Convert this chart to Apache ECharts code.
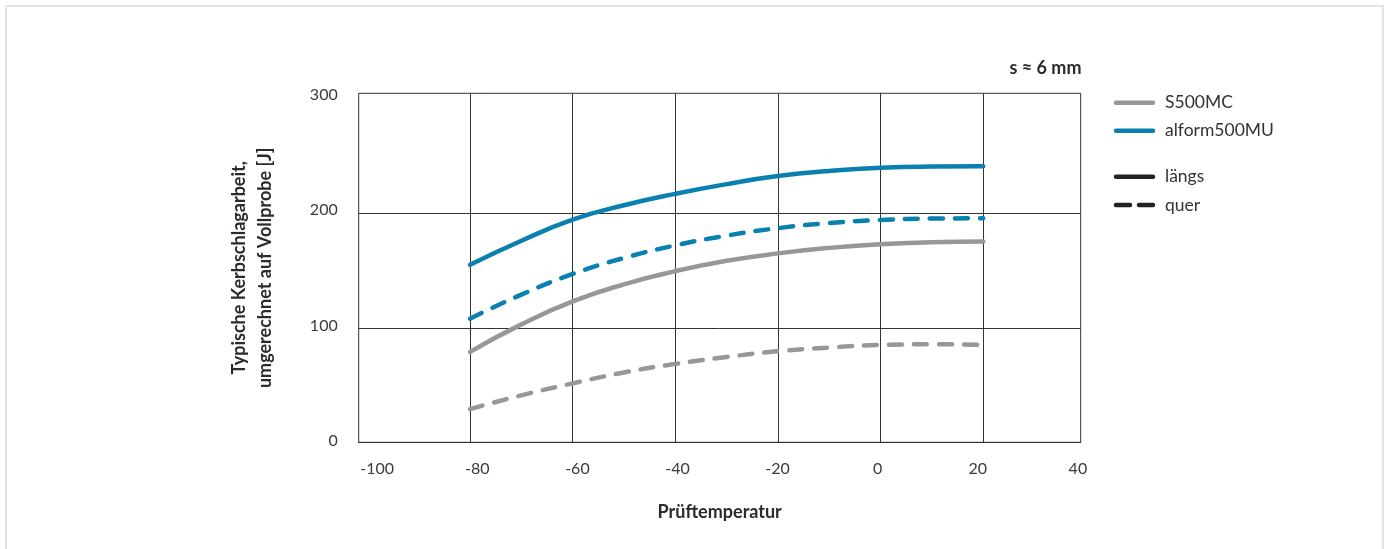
<!DOCTYPE html>
<html>
<head>
<meta charset="utf-8">
<script src="https://cdn.jsdelivr.net/npm/echarts@6/dist/echarts.min.js"></script>
<style>
  html, body { margin: 0; padding: 0; background: #fff; }
  #chart { width: 1389px; height: 549px; }
</style>
</head>
<body>
<div id="chart"></div>
<script>
// ---- data ----
var temperatures = [-80, -70, -60, -50, -40, -30, -20, -10, 0, 10, 20];
var s500mcLaengs = [79, 103, 123, 138, 149.5, 158.5, 165, 169.8, 173, 174.8, 175.3];
var s500mcQuer   = [29, 41, 51.5, 61, 68.5, 74.5, 79.5, 82.8, 85, 85.6, 85.2];
var alformLaengs = [155, 176, 194.5, 207, 217, 225.5, 232.5, 237, 239.8, 240.8, 241];
var alformQuer   = [108, 129, 147, 161, 172, 180.5, 187, 191.5, 194.2, 195.4, 195.6];

var xTickLabels = [-100, -80, -60, -40, -20, 0, 20, 40];
var xGridValues = [-80, -60, -40, -20, 0, 20];
var yTickLabels = [0, 100, 200, 300];
var yGridValues = [0, 100, 200];

var seriesNames = ['S500MC', 'alform500MU'];
var styleNames = ['längs', 'quer'];
var xAxisTitle = 'Prüftemperatur';
var yAxisTitle = 'Typische Kerbschlagarbeit,\numgerechnet auf Vollprobe [J]';
var thicknessNote = 's ≈ 6 mm';

// ---- styling ----
var GRAY = '#97979a';
var BLUE = '#0a80b0';
var FONT = 'Lato, "Noto Sans", sans-serif';
var DASH = [13, 12];

function pairs(xs, ys) {
  return xs.map(function (x, i) { return [x, ys[i]]; });
}

function lineSeries(name, values, color, dashed) {
  return {
    name: name,
    type: 'line',
    data: pairs(temperatures, values),
    smooth: 0.5,
    showSymbol: false,
    symbol: 'none',
    silent: true,
    lineStyle: {
      color: color,
      width: 4.5,
      type: dashed ? DASH : 'solid',
      cap: 'round',
      join: 'round'
    }
  };
}

var chart = echarts.init(document.getElementById('chart'), null, { renderer: 'canvas' });

var legendX0 = 1116, legendX1 = 1153, legendTextX = 1165;
var legendRows = [
  { text: seriesNames[0], y: 102.7, color: GRAY, dashed: false },
  { text: seriesNames[1], y: 130.7, color: BLUE, dashed: false },
  { text: styleNames[0], y: 176.7, color: '#222', dashed: false },
  { text: styleNames[1], y: 205, color: '#222', dashed: true }
];

var graphics = [
  {
    type: 'rect',
    shape: { x: 6, y: 6, width: 1377, height: 580 },
    style: { fill: 'none', stroke: '#e4e4e4', lineWidth: 2 },
    silent: true
  },
  {
    type: 'text',
    x: 1081.5, y: 68.5,
    style: {
      text: thicknessNote,
      font: 'bold 18px ' + FONT,
      fill: '#2b2b2b',
      align: 'right',
      verticalAlign: 'middle'
    }
  }
];

legendRows.forEach(function (r) {
  if (r.dashed) {
    graphics.push({
      type: 'line',
      shape: { x1: legendX0, y1: r.y, x2: legendX0 + 14, y2: r.y },
      style: { stroke: r.color, lineWidth: 4.5, lineCap: 'round' }
    });
    graphics.push({
      type: 'line',
      shape: { x1: legendX1 - 14, y1: r.y, x2: legendX1, y2: r.y },
      style: { stroke: r.color, lineWidth: 4.5, lineCap: 'round' }
    });
  } else {
    graphics.push({
      type: 'line',
      shape: { x1: legendX0, y1: r.y, x2: legendX1, y2: r.y },
      style: { stroke: r.color, lineWidth: 4.5, lineCap: 'round' }
    });
  }
  graphics.push({
    type: 'text',
    x: legendTextX, y: r.y,
    style: {
      text: r.text,
      font: '17.5px ' + FONT,
      fill: '#333',
      align: 'left',
      verticalAlign: 'middle'
    }
  });
});

var option = {
  backgroundColor: '#fff',
  animation: false,
  grid: {
    left: 358.7,
    top: 93.3,
    right: 1389 - 1080.7,
    bottom: 549 - 442.3,
    show: true,
    borderColor: '#333',
    borderWidth: 1,
    backgroundColor: 'transparent'
  },
  xAxis: [
    {
      type: 'value',
      min: -101.7,
      max: 39,
      axisLine: { show: true, onZero: false, lineStyle: { color: '#333', width: 1 } },
      axisTick: { show: false, customValues: xGridValues },
      axisLabel: { show: false },
      splitLine: { show: true, lineStyle: { color: '#333', width: 1 } },
      name: xAxisTitle,
      nameLocation: 'middle',
      nameGap: 61,
      nameTextStyle: { fontFamily: FONT, fontSize: 18, fontWeight: 'bold', color: '#2b2b2b' }
    },
    {
      type: 'value',
      position: 'bottom',
      offset: 0,
      min: -103.7,
      max: 40.56,
      axisLine: { show: false },
      axisTick: { show: false, customValues: xTickLabels },
      axisLabel: {
        show: true,
        customValues: xTickLabels,
        margin: 19,
        fontFamily: FONT,
        fontSize: 16,
        color: '#3a3a3a'
      },
      splitLine: { show: false }
    }
  ],
  yAxis: [
    {
      type: 'value',
      min: 0,
      max: 304.8,
      axisLine: { show: true, lineStyle: { color: '#333', width: 1 } },
      axisTick: { show: false, customValues: yGridValues },
      axisLabel: { show: false },
      splitLine: { show: true, lineStyle: { color: '#333', width: 1 } },
      name: yAxisTitle,
      nameLocation: 'middle',
      nameGap: 81,
      nameTextStyle: { fontFamily: FONT, fontSize: 18, fontWeight: 'bold', color: '#2b2b2b', lineHeight: 26, align: 'center' }
    },
    {
      type: 'value',
      position: 'left',
      offset: 0,
      min: -1.39,
      max: 301.5,
      axisLine: { show: false },
      axisTick: { show: false, customValues: yTickLabels },
      axisLabel: {
        show: true,
        customValues: yTickLabels,
        margin: 21,
        fontFamily: FONT,
        fontSize: 16,
        color: '#3a3a3a'
      },
      splitLine: { show: false }
    }
  ],
  series: [
    lineSeries(seriesNames[0] + ' ' + styleNames[1], s500mcQuer, GRAY, true),
    lineSeries(seriesNames[0] + ' ' + styleNames[0], s500mcLaengs, GRAY, false),
    lineSeries(seriesNames[1] + ' ' + styleNames[1], alformQuer, BLUE, true),
    lineSeries(seriesNames[1] + ' ' + styleNames[0], alformLaengs, BLUE, false)
  ],
  graphic: graphics
};

chart.setOption(option);
</script>
</body>
</html>
